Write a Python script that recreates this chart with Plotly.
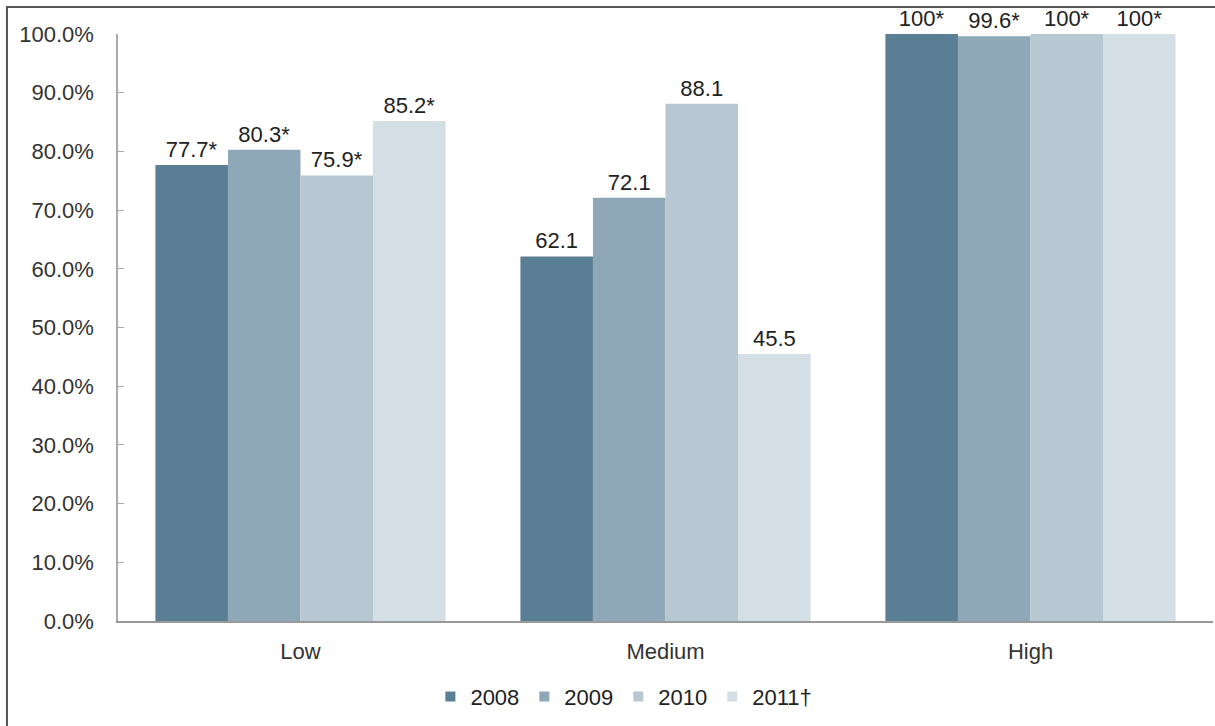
import plotly.graph_objects as go

categories = ["Low", "Medium", "High"]
years = ["2008", "2009", "2010", "2011†"]
values_2008 = [77.7, 62.1, 100.0]
values_2009 = [80.3, 72.1, 99.6]
values_2010 = [75.9, 88.1, 100.0]
values_2011 = [85.2, 45.5, 100.0]
labels_2008 = ["77.7*", "62.1", "100*"]
labels_2009 = ["80.3*", "72.1", "99.6*"]
labels_2010 = ["75.9*", "88.1", "100*"]
labels_2011 = ["85.2*", "45.5", "100*"]
colors = ["#5a7f94", "#8fa8b7", "#b7c8d2", "#d4dee5"]

series = [values_2008, values_2009, values_2010, values_2011]
labels = [labels_2008, labels_2009, labels_2010, labels_2011]

FONT = "Liberation Sans, Arial"

fig = go.Figure()
for name, vals, txt, col in zip(years, series, labels, colors):
    fig.add_trace(go.Bar(
        x=categories, y=vals, name=name, text=txt,
        textposition="outside", cliponaxis=False, showlegend=False,
        textfont=dict(size=22, color="#222222", family=FONT),
        marker=dict(color=col, line=dict(width=0)),
    ))

# legend entries with small square swatches
for name, col in zip(years, colors):
    fig.add_trace(go.Scatter(
        x=[None], y=[None], mode="markers", name=name,
        marker=dict(symbol="square", size=10, color=col),
    ))

fig.update_layout(
    width=1215, height=726,
    margin=dict(l=118, r=2, t=34, b=105),
    paper_bgcolor="white", plot_bgcolor="white",
    barmode="group", bargap=0.205, bargroupgap=0,
    font=dict(family=FONT, size=22, color="#333333"),
    showlegend=True,
    legend=dict(orientation="h", x=0.462, xanchor="center", y=-0.093, yanchor="top",
                font=dict(size=22, color="#222222"), itemwidth=30,
                tracegroupgap=0, traceorder="normal"),
    xaxis=dict(showline=True, linecolor="#999999", linewidth=2, ticks="",
               tickfont=dict(size=22, color="#333333"), ticklabelstandoff=10,
               showgrid=False),
    yaxis=dict(range=[0, 100], dtick=10, tickformat=".1f", ticksuffix="%",
               showline=True, linecolor="#aaaaaa", linewidth=1.5,
               ticks="inside", ticklen=6, tickcolor="#aaaaaa",
               showgrid=False, zeroline=False, ticklabelstandoff=18,
               tickfont=dict(size=22, color="#333333")),
    shapes=[dict(type="rect", xref="paper", yref="paper",
                 x0=-0.1014, x1=1.05, y0=-0.3, y1=1.046,
                 line=dict(color="#555555", width=2), fillcolor="rgba(0,0,0,0)")],
)

fig.write_html("out.html")
